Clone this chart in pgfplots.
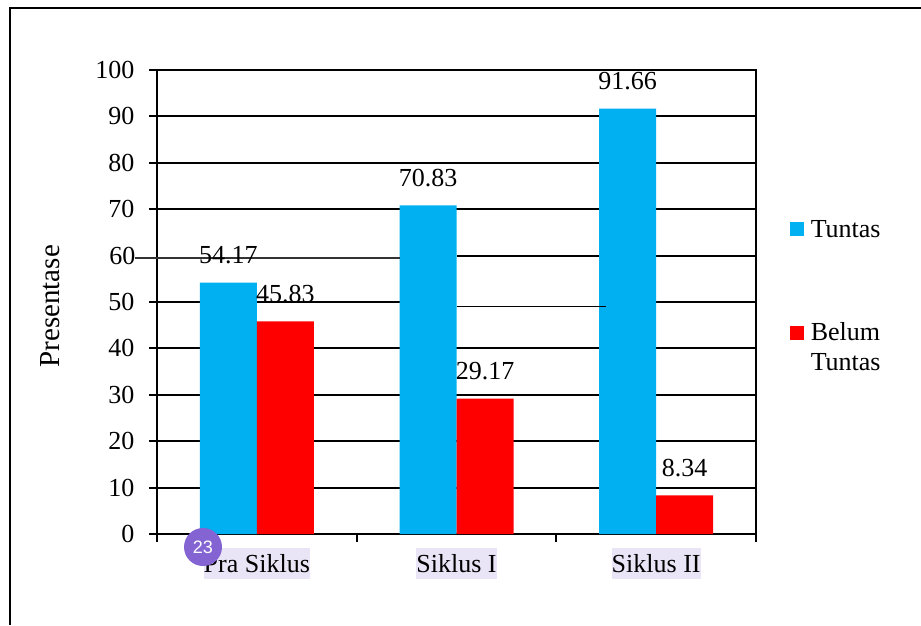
\documentclass[border=0pt]{standalone}
\usepackage{fontspec}
\setmainfont{Liberation Serif}
\newfontfamily\badgefont{Liberation Sans}
\usepackage{pgfplots}
\pgfplotsset{compat=1.18}
\definecolor{tuntas}{HTML}{00B0F0}
\definecolor{belum}{HTML}{FF0000}
\definecolor{labelbg}{HTML}{E9E5F6}
\definecolor{badge}{HTML}{8464D2}
\newcommand{\chartfont}{\fontsize{26}{30}\selectfont}
\newcommand{\ylabelfont}{\fontsize{29}{32}\selectfont}
\begin{document}
\begin{tikzpicture}[x=1pt,y=1pt]
\path[use as bounding box] (0,0) rectangle (921,625);
%% outer frame
\draw[line width=2pt] (10,0) -- (10,617) -- (921,617);
\begin{axis}[
    at={(157pt,91pt)}, anchor=south west,
    scale only axis, width=599pt, height=464pt,
    xmin=-0.5, xmax=2.5, ymin=0, ymax=100,
    clip=false,
    axis line style={line width=2pt},
    tick style={line width=2pt, black},
    tick align=outside, tick pos=left,
    major tick length=8pt,
    xtick={-0.5,0.5,1.5,2.5},
    x tick label as interval,
    xticklabels={Pra Siklus, Siklus I, Siklus II},
    xticklabel style={fill=labelbg, inner xsep=0pt, inner ysep=6.5pt, yshift=-6pt},
    ytick={0,10,20,30,40,50,70,80,90,100},
    yticklabel style={xshift=-11pt},
    extra y ticks={60},
    extra y tick labels={60},
    extra y tick style={major tick length=0pt, yticklabel style={xshift=-7pt}},
    /pgf/number format/assume math mode=true,
    tick label style={font=\chartfont},
    ylabel={Presentase},
    ylabel style={font=\ylabelfont, at={(-0.1786,0.491)}, anchor=center},
    legend style={draw=none, fill=none, at={(1.056,0.681)}, anchor=north west,
        font=\chartfont, cells={anchor=base west}, /tikz/row sep=80pt,
        /tikz/column sep=5pt, inner sep=0pt},
    legend image code/.code={\fill[#1] (0pt,1pt) rectangle (14pt,15pt);},
    every node near coord/.append style={font=\chartfont, yshift=15pt,
        /pgf/number format/fixed, /pgf/number format/precision=2,
        /pgf/number format/fixed zerofill, /pgf/number format/assume math mode=true},
]
%% grid lines, 50 and 60 are broken and shifted in the original
\addplot[black, line width=2pt, forget plot] coordinates {(-0.5,10)(2.5,10)};
\addplot[black, line width=2pt, forget plot] coordinates {(-0.5,20)(2.5,20)};
\addplot[black, line width=2pt, forget plot] coordinates {(-0.5,30)(2.5,30)};
\addplot[black, line width=2pt, forget plot] coordinates {(-0.5,40)(2.5,40)};
\addplot[black, line width=2pt, forget plot] coordinates {(-0.5,50)(0.72,50)};
\addplot[black, line width=2pt, forget plot] coordinates {(2,50)(2.5,50)};
\addplot[black, line width=2pt, forget plot] coordinates {(1,60)(2.5,60)};
\addplot[black, line width=2pt, forget plot] coordinates {(-0.5,70)(2.5,70)};
\addplot[black, line width=2pt, forget plot] coordinates {(-0.5,80)(2.5,80)};
\addplot[black, line width=2pt, forget plot] coordinates {(-0.5,90)(2.5,90)};
%% bars
\addplot[ybar, bar width=57pt, bar shift=-28.5pt, fill=tuntas, draw=none,
    nodes near coords, nodes near coords style={xshift=-28.5pt}]
    coordinates {(0,54.17)(1,70.83)(2,91.66)};
\addlegendentry{Tuntas}
\addplot[ybar, bar width=57pt, bar shift=28.5pt, fill=belum, draw=none,
    nodes near coords, nodes near coords style={xshift=28.5pt}]
    coordinates {(0,45.83)(1,29.17)(2,8.34)};
\addlegendentry{\parbox[t]{90pt}{\baselineskip=30pt Belum\\Tuntas}}
%% stray lines
\addplot[black!80, line width=1.2pt, forget plot] coordinates {(-0.61,59.5)(0.716,59.5)};
\addplot[black, line width=1.2pt, forget plot] coordinates {(1,49.1)(1.75,49.1)};
\end{axis}
%% page number badge
\node[circle, fill=badge, minimum size=38pt, inner sep=0pt, text=white,
    font=\badgefont\fontsize{18}{20}\selectfont] at (203,78) {23};
\end{tikzpicture}
\end{document}
